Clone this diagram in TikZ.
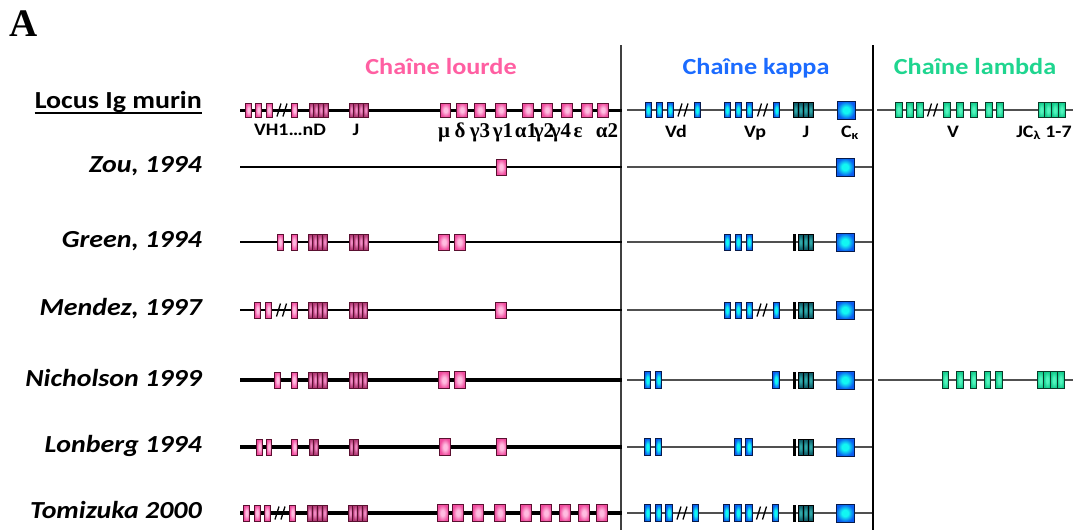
\documentclass[tikz,border=0pt]{standalone}
\usepackage{fontspec}
\setmainfont{Carlito}
\newfontfamily\lab{Carlito}[FakeStretch=1.14]
\newfontfamily\serif{Liberation Serif}

% exon colours
\definecolor{hout}{HTML}{F04C9E}
\definecolor{hin}{HTML}{FFBCE0}
\definecolor{hbd}{HTML}{5A1030}
\definecolor{djout}{HTML}{B03A74}
\definecolor{djin}{HTML}{F08CC4}
\definecolor{kout}{HTML}{0A5CF0}
\definecolor{kin}{HTML}{12F6F2}
\definecolor{kbd}{HTML}{061A4A}
\definecolor{kjout}{HTML}{0E5A66}
\definecolor{kjin}{HTML}{30A8A8}
\definecolor{lout}{HTML}{12CC8C}
\definecolor{lin}{HTML}{50F4BC}
\definecolor{lbd}{HTML}{0A3A28}
\definecolor{pinkT}{HTML}{FF5FA2}
\definecolor{blueT}{HTML}{1B6BFF}
\definecolor{greenT}{HTML}{1FD58F}
\definecolor{kline}{HTML}{505050}
\definecolor{vsep}{HTML}{404040}

% soft-centred fills for the exon boxes (box edge sits at 25bp)
\pgfdeclareradialshading{pinkball}{\pgfpoint{0bp}{0bp}}{color(0bp)=(hin); color(8bp)=(hin); color(25bp)=(hout); color(50bp)=(hout)}
\pgfdeclareradialshading{mauveball}{\pgfpoint{0bp}{0bp}}{color(0bp)=(djin); color(6bp)=(djin); color(23bp)=(djout); color(50bp)=(djout)}
\pgfdeclareradialshading{blueball}{\pgfpoint{0bp}{0bp}}{color(0bp)=(kin); color(9bp)=(kin); color(25bp)=(kout); color(50bp)=(kout)}
\pgfdeclareradialshading{tealball}{\pgfpoint{0bp}{0bp}}{color(0bp)=(kjin); color(6bp)=(kjin); color(23bp)=(kjout); color(50bp)=(kjout)}
\pgfdeclareradialshading{greenball}{\pgfpoint{0bp}{0bp}}{color(0bp)=(lin); color(8bp)=(lin); color(25bp)=(lout); color(50bp)=(lout)}

\tikzset{
  exon/.style={rectangle, inner sep=0pt, outer sep=0pt, line width=0.8pt},
  hv/.style={exon, draw=hbd, shade, shading=pinkball},
  hdj/.style={exon, draw=hbd, shade, shading=mauveball},
  kv/.style={exon, draw=kbd, shade, shading=blueball},
  kj/.style={exon, draw=black, shade, shading=tealball},
  kbar/.style={exon, draw=black, fill=black},
  lv/.style={exon, draw=lbd, shade, shading=greenball},
  hline/.style={line width=3pt, black},
  hthin/.style={line width=2.2pt, black},
  hthick/.style={line width=3.2pt, black},
  kl/.style={line width=1.4pt, kline},
  brkline/.style={line width=1.3pt, black},
  rowlab/.style={anchor=base east, inner sep=0pt, font=\lab\bfseries\itshape\fontsize{24.5}{28}\selectfont},
  header/.style={anchor=base, inner sep=0pt, font=\lab\bfseries\fontsize{23}{26}\selectfont},
  seglab/.style={anchor=base, inner sep=0pt, font=\lab\bfseries\fontsize{17.5}{20}\selectfont},
  greeklab/.style={anchor=base, inner sep=0pt, font=\serif\bfseries\fontsize{21}{22}\selectfont},
}

% a list of separate exons: style, name prefix, y, width, height, x centres
\newcommand\exons[6]{%
  \foreach \xc [count=\k] in {#6} {%
    \node[#1, minimum width=#4pt, minimum height=#5pt] (#2\k) at (\xc,#3) {};}}
% a block of n adjacent exons: style, name prefix, y, x start, x end, n, height
\newcommand\cluster[7]{%
  \pgfmathsetmacro\cw{(#5-#4)/#6}%
  \foreach \k in {1,...,#6} {%
    \pgfmathsetmacro\cx{#4+(\k-0.5)*\cw}%
    \node[#1, minimum width=\cw pt, minimum height=#7pt] (#2\k) at (\cx,#3) {};}}
% a "//" break mark centred on (x,y)
\newcommand\brk[2]{%
  \draw[brkline] (#1-5,#2+6.5) -- (#1-1,#2-6.5) (#1+1,#2+6.5) -- (#1+5,#2-6.5);}

\begin{document}
\begin{tikzpicture}[x=1pt,y=-1pt]
\useasboundingbox (0,0) rectangle (1080,530);

% panel letter and chain headers
\node[anchor=base west, inner sep=0pt, font=\serif\bfseries\fontsize{39}{40}\selectfont] (panel) at (9,36) {A};
\node[header, text=pinkT] (hH) at (441,74) {Chaîne lourde};
\node[header, text=blueT] (hK) at (756,74) {Chaîne kappa};
\node[header, text=greenT] (hL) at (975,74) {Chaîne lambda};

% separators between loci
\coordinate (s1t) at (621,45); \coordinate (s1b) at (621,530);
\coordinate (s2t) at (873,45); \coordinate (s2b) at (873,530);
\draw[line width=1.3pt, vsep] (s1t) -- (s1b);
\draw[line width=2.5pt, black] (s2t) -- (s2b);

% row labels
\node[rowlab, font=\lab\bfseries\fontsize{24.5}{28}\selectfont] (locus) at (202,108) {Locus Ig murin};
\draw[line width=1.8pt] ([yshift=-4.8pt]locus.base west) -- ([yshift=-4.8pt]locus.base east);
\node[rowlab] (rZou) at (202,172) {Zou, 1994};
\node[rowlab] (rGreen) at (202,247) {Green, 1994};
\node[rowlab] (rMendez) at (202,315) {Mendez, 1997};
\node[rowlab] (rNich) at (202,386) {Nicholson 1999};
\node[rowlab] (rLon) at (202,452) {Lonberg 1994};
\node[rowlab] (rTom) at (202,518) {Tomizuka 2000};

% ---------- backbone lines ----------
\foreach \n/\y/\s in {a/110/hline, b/167/hthin, c/242/hthin, d/310/hthin, e/380/hthick, f/447/hthick, g/513/hthick} {
  \coordinate (H\n s) at (240,\y); \coordinate (H\n e) at (622,\y);
  \draw[\s] (H\n s) -- (H\n e);
  \coordinate (K\n s) at (627,\y); \coordinate (K\n e) at (872,\y);
  \draw[kl] (K\n s) -- (K\n e);
}
\coordinate (Las) at (877,110); \coordinate (Lae) at (1073,110);
\draw[kl] (Las) -- (Lae);
\coordinate (Les) at (878,380); \coordinate (Lee) at (1073,380);
\draw[kl] (Les) -- (Lee);

% ---------- murine locus ----------
\exons{hv}{aV}{110}{6}{14}{248.5,258.5,269,294.5}
\brk{282}{110}
\cluster{hdj}{aD}{110}{309}{328}{4}{14}
\cluster{hdj}{aJ}{110}{349}{368}{4}{14}
\exons{hv}{aC}{110}{10.5}{14}{445.5,462,480,501,528,547,567,587,603}
\exons{kv}{aVd}{110}{6}{15}{648,659,670,697}
\brk{683}{110}
\exons{kv}{aVp}{110}{6}{15}{727,738,749,776.5}
\brk{762.5}{110}
\cluster{kj}{aJk}{110}{793}{813}{4}{15}
\node[kv, minimum width=18pt, minimum height=18pt] (aCk) at (846,110) {};
\exons{lv}{aVl}{110}{7}{15}{898.5,909.5,920,946.5,960,973.5,988.5,999.5}
\brk{932.5}{110}
\cluster{lv}{aJl}{110}{1038}{1065}{4}{15}

% segment labels
\node[seglab] (tVH) at (290,135) {VH1…nD};
\node[seglab] (tJh) at (356,135) {J};
\foreach \g/\x [count=\k] in {μ/444, δ/460, γ3/480, γ1/503, α1/526, γ2/544, γ4/561, ε/578, α2/607}
  \node[greeklab] (tg\k) at (\x,137) {\g};
\node[seglab] (tVd) at (676,137) {Vd};
\node[seglab] (tVp) at (755,137) {Vp};
\node[seglab] (tJk) at (806,137) {J};
\node[seglab] (tCk) at (850,137) {C\textsubscript{κ}};
\node[seglab] (tVl) at (953,137) {V};
\node[seglab] (tJl) at (1044,137) {JC\textsubscript{λ} 1-7};

% ---------- Zou, 1994 ----------
\exons{hv}{bC}{167}{10}{16}{501}
\node[kv, minimum width=18pt, minimum height=18pt] (bCk) at (845,167) {};

% ---------- Green, 1994 ----------
\exons{hv}{cV}{242}{6}{16}{280,294}
\cluster{hdj}{cD}{242}{308}{327}{4}{16}
\cluster{hdj}{cJ}{242}{349}{368}{4}{16}
\exons{hv}{cC}{242}{11}{16}{444,459.5}
\exons{kv}{cVk}{242}{6}{16}{727,738,749}
\node[kbar, minimum width=2.6pt, minimum height=16pt] (cBk) at (794.5,242) {};
\cluster{kj}{cJk}{242}{798}{813}{3}{16}
\node[kv, minimum width=18pt, minimum height=18pt] (cCk) at (845,242) {};

% ---------- Mendez, 1997 ----------
\exons{hv}{dV}{310}{6}{16}{257.5,268.5,294}
\brk{281.5}{310}
\cluster{hdj}{dD}{310}{308}{327}{4}{16}
\cluster{hdj}{dJ}{310}{349}{367}{4}{16}
\exons{hv}{dC}{310}{11}{16}{500.5}
\exons{kv}{dVk}{310}{6}{16}{727,738,749,776}
\brk{762}{310}
\node[kbar, minimum width=2.6pt, minimum height=16pt] (dBk) at (794.5,310) {};
\cluster{kj}{dJk}{310}{798}{813}{3}{16}
\node[kv, minimum width=18pt, minimum height=18pt] (dCk) at (845,310) {};

% ---------- Nicholson 1999 ----------
\exons{hv}{eV}{380}{6}{16}{277.5,294}
\cluster{hdj}{eD}{380}{308}{327}{4}{16}
\cluster{hdj}{eJ}{380}{349}{367}{4}{16}
\exons{hv}{eC}{380}{11}{17}{444,459.5}
\exons{kv}{eVk}{380}{6.5}{17}{647.5,658.5,776}
\node[kbar, minimum width=2.6pt, minimum height=16pt] (eBk) at (794.5,380) {};
\cluster{kj}{eJk}{380}{798}{813}{3}{16}
\node[kv, minimum width=18pt, minimum height=18pt] (eCk) at (845,380) {};
\exons{lv}{eVl}{380}{6.5}{17}{945.5,960,973.5,987.5,999}
\cluster{lv}{eJl}{380}{1037}{1064}{4}{17}

% ---------- Lonberg 1994 ----------
\exons{hv}{fV}{447}{5.5}{16}{259.5,269,294.5}
\cluster{hdj}{fD}{447}{309}{318}{2}{16}
\cluster{hdj}{fJ}{447}{349}{358}{2}{16}
\exons{hv}{fC}{447}{10.5}{17}{445,501.5}
\exons{kv}{fVk}{447}{6.5}{17}{647.5,658.5,738,749}
\node[kbar, minimum width=2.6pt, minimum height=16pt] (fBk) at (794.5,447) {};
\cluster{kj}{fJk}{447}{798}{813}{3}{16}
\node[kv, minimum width=18pt, minimum height=18pt] (fCk) at (845,447) {};

% ---------- Tomizuka 2000 ----------
\exons{hv}{gV}{513}{6}{16}{246.5,257,267,292.5}
\brk{280}{513}
\cluster{hdj}{gD}{513}{307}{327}{4}{16}
\cluster{hdj}{gJ}{513}{348}{367}{4}{16}
\exons{hv}{gC}{513}{11}{17}{442.5,458,478,500,526,546,565,584,601.5}
\exons{kv}{gVk}{513}{6.5}{17}{647.5,658.5,669,695.5,726.5,738,749,775.5}
\brk{682}{513}
\brk{761.5}{513}
\node[kbar, minimum width=2.6pt, minimum height=16pt] (gBk) at (794.5,513) {};
\cluster{kj}{gJk}{513}{798}{813}{3}{16}
\node[kv, minimum width=18pt, minimum height=18pt] (gCk) at (845,513) {};

\end{tikzpicture}
\end{document}
